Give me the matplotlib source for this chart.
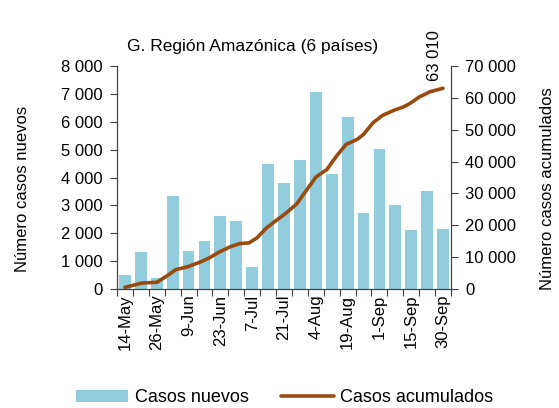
import matplotlib.pyplot as plt
from matplotlib.ticker import FuncFormatter

plt.rcParams['font.family'] = ['Liberation Sans', 'DejaVu Sans']

# weekly bars (category axis)
semanas = ["14-May", "20-May", "26-May", "2-Jun", "9-Jun", "16-Jun", "23-Jun",
           "30-Jun", "7-Jul", "14-Jul", "21-Jul", "28-Jul", "4-Aug", "11-Aug",
           "19-Aug", "26-Aug", "1-Sep", "8-Sep", "15-Sep", "22-Sep", "30-Sep"]
casos_nuevos = [520, 1330, 410, 3350, 1370, 1710, 2610, 2450, 790, 4480, 3800,
                4610, 7050, 4120, 6170, 2740, 5010, 3010, 2100, 3530, 2160]

# cumulative curve, read at fractional week positions
acum_semana = [0.0, 1.1, 2.0, 2.6, 3.2, 3.9, 4.7, 5.3, 5.9, 6.6, 7.2, 7.8, 8.3,
               8.9, 9.5, 10.1, 10.8, 11.4, 12.0, 12.7, 13.3, 13.9, 14.6, 15.0,
               15.6, 16.2, 16.9, 17.5, 17.9, 18.5, 19.2, 20.0]
casos_acumulados = [520, 1890, 2100, 3980, 6080, 6920, 8390, 9750, 11530, 13210,
                    14260, 14470, 16040, 19180, 21490, 23690, 26730, 30920, 35110,
                    37530, 41720, 45390, 46960, 48530, 52200, 54510, 56080, 57130,
                    58180, 60270, 61950, 63010]


def miles(v, p=None):
    return f"{int(v):,}".replace(",", " ")


fig = plt.figure(figsize=(5.59, 4.08), dpi=100)
ax = fig.add_axes([117 / 559, 1 - 289 / 408, 334 / 559, 223 / 408])
ax2 = ax.twinx()

x = range(len(semanas))
b = ax.bar(x, casos_nuevos, width=0.74, color="#92CDDD", label="Casos nuevos")
l, = ax2.plot(acum_semana, casos_acumulados, color="#9A4A0E", lw=2.6,
              solid_capstyle="round", label="Casos acumulados")
ax2.annotate(miles(casos_acumulados[-1]),
             (acum_semana[-1], casos_acumulados[-1]), xytext=(-6, 5),
             textcoords="offset points", rotation=90, ha="center", va="bottom",
             fontsize=12)

ax.set_xlim(-0.5, len(semanas) - 0.5)
ax.set_ylim(0, 8000)
ax2.set_ylim(0, 70000)
ax.set_yticks(range(0, 8001, 1000))
ax2.set_yticks(range(0, 70001, 10000))
ax.yaxis.set_major_formatter(FuncFormatter(miles))
ax2.yaxis.set_major_formatter(FuncFormatter(miles))

ax.set_xticks([i + 0.5 for i in range(-1, len(semanas))], minor=False)
ax.set_xticklabels([])
ax.set_xticks(list(x)[::2], minor=True)
ax.set_xticklabels(semanas[::2], minor=True, rotation=90, fontsize=12)
ax.tick_params(axis="x", which="minor", length=0, pad=4)
ax.tick_params(axis="x", which="major", length=5, color="#404040")

for a in (ax, ax2):
    a.spines["top"].set_visible(False)
    for s in ("left", "right", "bottom"):
        a.spines[s].set_color("#404040")
    a.tick_params(axis="y", labelsize=12, length=5, color="#404040", pad=5)

ax.set_ylabel("Número casos nuevos", fontsize=12)
ax.yaxis.set_label_coords(-0.26, 0.45)
ax2.set_ylabel("Número casos acumulados", fontsize=12, rotation=90)
ax2.yaxis.set_label_coords(1.265, 0.45)
ax.set_title("G. Región Amazónica (6 países)", fontsize=12.5, pad=11, x=0.405)

fig.legend([b, l], ["Casos nuevos", "Casos acumulados"], loc="center",
           bbox_to_anchor=(0.509, 0.025), ncol=2, frameon=False, fontsize=13,
           handlelength=2.9, handleheight=0.6, handletextpad=0.35,
           columnspacing=1.8)

fig.savefig("out.png", dpi=100)
